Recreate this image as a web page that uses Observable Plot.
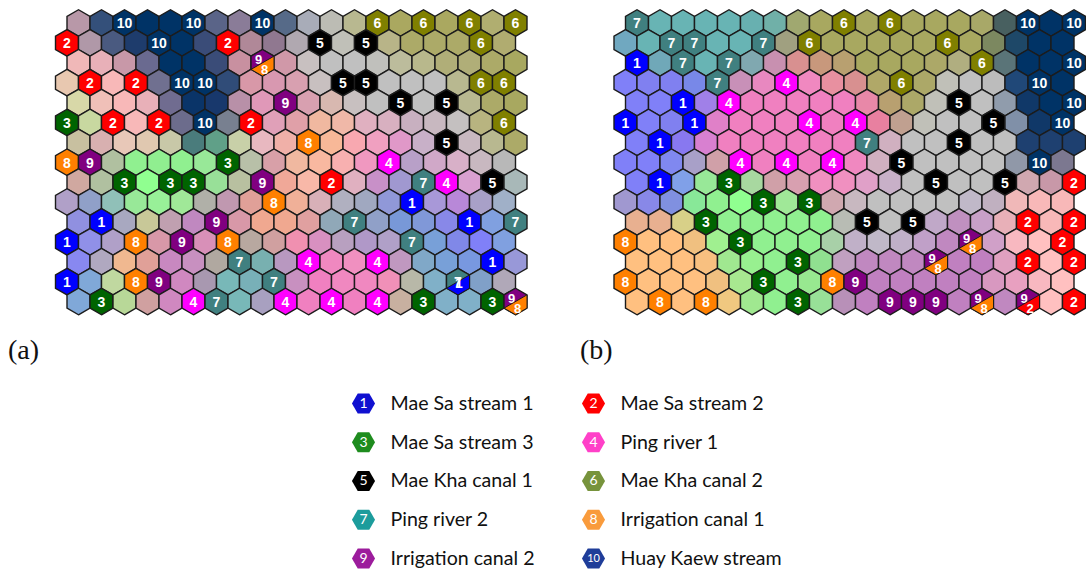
<!DOCTYPE html>
<html><head><meta charset="utf-8">
<script src="https://cdn.jsdelivr.net/npm/d3@7"></script>
<script src="https://cdn.jsdelivr.net/npm/@observablehq/plot@0.6"></script>
<style>
html,body{margin:0;padding:0;background:#fff}
body{width:1086px;height:571px;position:relative;overflow:hidden}
#mapA{position:absolute;left:0;top:0}
#mapB{position:absolute;left:543px;top:0}
#legend{position:absolute;left:330px;top:380px}
.tag{position:absolute;font-family:"Liberation Serif","Times New Roman",serif;font-size:28px;line-height:1;color:#111}
</style></head>
<body>
<div id="mapA"></div><div id="mapB"></div>
<div class="tag" style="left:8px;top:336px">(a)</div>
<div class="tag" style="left:580px;top:336px">(b)</div>
<div id="legend"></div>
<script>
// ---- class colours and names ----
const classIds = ["1","2","3","4","5","6","7","8","9","10"];
const classNames = ["Mae Sa stream 1","Mae Sa stream 2","Mae Sa stream 3","Ping river 1","Mae Kha canal 1","Mae Kha canal 2","Ping river 2","Irrigation canal 1","Irrigation canal 2","Huay Kaew stream"];
const mapClassColors = ["#0000ff","#ff0000","#006400","#ff00ff","#000000","#808000","#408080","#ff8000","#800080","#003366"];
const legendColors = ["#1010d0","#ff0000","#1e8c1e","#ff40c8","#000000","#77933c","#1c9c9c","#f99b3c","#9c1c9c","#1f3d99"];

// ---- map (a): 15 rows x 20 cells; number = labelled class cell, "a/b" = split cell ----
const mapA = [
["#b898a8","#34507a","10","#003366","#003366","10","#5a6488","#8a7c98","10","#566a88","#a8acb8","#bcbcb4","#b8b890","6","#aaa860","6","#aaa860","6","#b0ae70","6"],
["2","#b098a8","#4a5a80","#1e3c6c","10","#003366","#3a4c78","2","#b08898","#907890","#b0a8b0","5","#c0c0b8","5","#b8b488","#acaa68","#acaa68","#acaa68","6","#b0ac70"],
["#f0b8b8","#e8b0b8","#c898a8","#6a6a90","#003366","#003366","#3a4c78","#c890a0","9/8","#d098a8","#c8c0c0","#c0c0c0","#c0c0c0","#c0c0bc","#bcbc9c","#b8b88c","#b0ae78","#b0ae78","#acaa68","#a8a860"],
["#e8c8b0","2","#f8b8b8","2","#707090","10","10","#304c78","#d898a8","#d898b0","#d8a0b0","#c8c0c0","5","5","#c0c0c0","#c0c0c0","#c0c0c0","#b8b890","6","6"],
["#d8d8a8","#f0c0b8","#f8b8b8","#e8b0b8","#706c90","#0a3468","#18386c","#b890a8","#e098b8","9","#d8a0b0","#d8b8b0","#c8c0c0","#c0c0c0","5","#c0c0c0","5","#b8b890","#acaa68","#a8a860"],
["3","#c8d8a0","2","#f8b8b8","2","#6c6c8c","10","#788090","2","#e0a0b8","#e0a0a8","#f0b8a0","#f0b8a8","#e0b0c0","#d8b0c0","#c8b0c0","#c8b8c0","#c4c0c0","#b8b480","6"],
["#c8c0a0","#d8b0b0","#e8c8b8","#e0c8b0","#c8c8a8","#4a7c7c","#60a088","#c8d0a8","#e8b8c0","#f0b0a8","8","#f8b898","#f8a8b0","#f0a0c0","#e098c8","#c8b0c8","5","#c8b8c0","#b8b890","#acaa68"],
["8","9","#b0c0a0","#90f090","#90ee90","#90f090","#98e898","3","#b8c0a8","#d8a0a8","#f0b8a0","#f8b8a0","#f8b0b0","#f098c0","4","#b8a0c8","#d0a8c8","#d8b0c8","#c8b8c0","#b8b8b8"],
["#d0a8a0","#b0c0a0","3","#90ff90","3","3","#98e098","#b8c0a0","9","#f0a898","#f8b8a8","2","#e0b0c0","#c890c8","#a098d0","7","4","#d8a0d0","5","#a8b8b8"],
["#b0a0c8","#90a0c8","#90c0b8","#98e898","#98f098","#a0e898","#b0b0a8","#c098b0","#e0a098","8","#f0b098","#d8b0b8","#b0b0c0","#a0a8c0","#9098d8","1","#a898d8","#b888d8","#a8a0c8","#a0b0c8"],
["#9090e0","1","#a8a8c0","#c8c898","#c0a0b0","#c088c0","9","#d898a8","#f0a890","#f0a890","#e0a0a0","#90a8b8","7","#90a0c8","#7898d8","#8098d8","#8888e8","1","#80a0e0","7"],
["1","#9090e8","#b0a0c8","8","#d898a8","9","#d890b8","8","#b8a8a0","#d0a0a0","#f090b0","#d890c0","#b8a0c0","#b098c8","#b0a0c8","7","#78a0d8","#8088e8","#8080f8","#80a0e0"],
["#8888f0","#b0a8c0","#f0b890","#e0a098","#c888c0","#c890c0","#b0a8a0","7","#78b0b0","#b898c0","4","#f088c0","#f090c0","4","#c098c0","#80a8c8","#78a0d8","#7898e0","1","#9898d8"],
["1","#80a8d8","#c0d8a0","8","9","#d088c0","#a898b0","#78b8b8","#78b0b8","7","#c890c0","#f080c0","#f088c0","#f088c0","#f090b8","#b8b8a8","#80b0c8","7/1","#80a0c8","#b0a8b8"],
["#80a8d8","3","#b8d898","#d0a0a0","#d088c0","4","7","#78b8b8","#a8a0c0","4","#f080c0","4","#f080c0","4","#c8b0a0","3","#80b0c8","#80b0c8","3","9/8"]
];

// ---- map (b) ----
const mapB = [
["7","#68b4b4","#68b4b4","#68b4b4","#68b4b4","#68b0b0","#70b0a8","#a0a870","#a8a860","6","#a8a860","6","#a8a860","#a8a860","#a8a860","#a8a868","#486060","10","#003366","10"],
["#70a8c0","#68b4b4","7","7","#68b4b4","#68b4b4","7","#a0a080","6","#a8a860","#a8a860","#a8a860","#a8a860","#a8a860","6","#a8a860","#7c8860","#1e4868","#003366","#003366"],
["1","#70a8b8","7","#68b4b4","7","#80a8b0","#c890b0","#d89090","#c8987c","#b8a070","#a8a860","#a8a860","#a8a860","#aca868","#b0ae80","6","#5a7478","#003366","#003366","10"],
["#8080f8","#8080f0","#8080f0","#7888e8","7","#c890b8","#e888c0","4","#f088c0","#e890a0","#d89090","#b0a868","6","#aca868","#c0c0b8","#c0c0c0","#bcbcbc","#204878","10","#003366"],
["#8080f8","#8080f8","1","#a080e8","4","#f080c0","#f080c0","#f080c0","#f080c0","#f080c0","#e888a8","#b8a070","#aca868","#c0c0b8","5","#c0c0c0","#909cac","#103868","#003366","10"],
["1","#8080f8","#8080f0","1","#e080c8","#f080c0","#f080c0","#f080c0","4","#f080c0","4","#e880a0","#c0a090","#c0c0b8","#c0c0c0","#c0c0c0","5","#8090a8","#103868","10"],
["#8080f8","1","#8878f0","#d880d0","#f080c0","#f080c0","#f080c0","#f080c0","#f080c0","#f080c0","7","#d0b0c0","#c0c0c0","#c0c0c0","5","#c0c0c0","#c0c0c0","#1e4070","#1e4070","#1e4070"],
["#8080f8","#8080f8","#8088f0","#a8a0c8","#d0a0a8","4","#f080c0","4","#f080c0","4","#f088c0","#d0b0c0","5","#c0c0c0","#c0c0c0","#c0c0c0","#c0c0c0","#9098a8","10","#7c7890"],
["#8080f8","1","#80a0e8","#98e898","3","#a8d8a0","#d0a0a8","#d8a0b0","#f090c0","#f090c0","#e0a0c8","#c8b0c8","#c0c0c0","5","#c0c0c0","#c0c0c0","5","#d0a8b0","#c898a8","2"],
["#a098d0","#8888e8","#8090e0","#88e898","#90f090","#90ff90","3","#a0e898","3","#d0a8b0","#c8b8c0","#c0c0c0","#c0c0c0","#c0c0c0","#c0c0c0","#c0b8c8","#c0b0c0","#f0b8b8","#f8b8b8","#f8b8b8"],
["#e8b090","#e8b090","#d8d088","3","#90f090","#90f090","#90f090","#90f090","#90f090","#b8bcb4","5","#c0c0c0","5","#c0a8c8","#c090c0","#c8a0c8","#e8b0b8","2","#f8b8b8","2"],
["8","#ffc080","#ffc080","#f0c080","#a0f090","3","#90f090","#90f090","#90f090","#a8d0a8","#c0b0c8","#c0b8c8","#c0b0c8","#c0a0c8","#c088c0","9/8","#d0a0c8","#f8b8c0","#ffc0c0","2"],
["#ffc080","#ffc080","#ffc080","#f8c080","#a0e890","#98f090","#90f090","3","#90e090","#c0a0c0","#c088c0","#c088c0","#c088c0","9/8","#c080c0","#c080c0","#e0a0c0","2","#ffc0c0","2"],
["8","#ffc080","#ffc080","#ffc080","#f0c080","#a8e890","3","#90f090","#98e890","8","9","#c080c0","#c080c0","#c080c0","#c080c0","#c080c0","#d898c0","#e8a0c0","#f8b8c0","#ffc0c0"],
["#ffc080","8","#ffc080","8","#f0c880","#a0e890","#90f090","3","#98e098","#b890b8","#c080c0","9","9","9","#c080c0","9/8","#c088c0","9/2","#ffc0c0","2"]
];

const classColor = id => mapClassColors[classIds.indexOf(id)];

// lower-right half of a pointy-top hexagon (cut from lower-left to upper-right vertex)
const halfHex = {
  draw(ctx, size) {
    const rx = Math.sqrt(size / Math.PI), ry = rx * 2 / Math.sqrt(3), hy = ry / 2;
    ctx.moveTo(rx, -hy); ctx.lineTo(rx, hy); ctx.lineTo(0, ry); ctx.lineTo(-rx, hy); ctx.closePath();
  }
};

function cellsOf(rows) {
  const cells = [], splits = [], labels = [], labA = [], labB = [];
  rows.forEach((row, r) => row.forEach((tok, c) => {
    const u = c + (r % 2 === 0 ? 0.5 : 0);
    if (tok.includes("/")) {
      const [a, b] = tok.split("/");
      cells.push({u, r, fill: classColor(a)});
      splits.push({u, r, fill: classColor(b)});
      labA.push({u, r, t: a, k: tok});
      labB.push({u, r, t: b, k: tok});
    } else if (classIds.includes(tok)) {
      cells.push({u, r, fill: classColor(tok)});
      labels.push({u, r, t: tok});
    } else {
      cells.push({u, r, fill: tok});
    }
  }));
  return {cells, splits, labels, labA, labB};
}

function drawMap(rows, x0) {
  const d = cellsOf(rows);
  const font = {fill: "white", fontWeight: "bold", fontSize: 14, fontFamily: "Liberation Sans, Arial, sans-serif"};
  return Plot.plot({
    width: 543, height: 320, margin: 0,
    x: {type: "linear", domain: [0, 19.5], range: [x0, x0 + 19.5 * 23], axis: null},
    y: {type: "linear", domain: [0, 14], range: [22.5, 301], axis: null},
    color: {type: "identity"},
    marks: [
      Plot.dot(d.cells, {x: "u", y: "r", r: 11.5, symbol: "hexagon", fill: "fill", stroke: "#1c1c1c", strokeWidth: 1.4}),
      Plot.dot(d.splits, {x: "u", y: "r", r: 11.5, symbol: halfHex, fill: "fill", stroke: "#1c1c1c", strokeWidth: 1}),
      Plot.text(d.labels, {x: "u", y: "r", text: "t", dy: 1, ...font}),
      Plot.text(d.labA.filter(e => e.k !== "7/1"), {x: "u", y: "r", text: "t", dx: -4, dy: -3, ...font, fontSize: 13}),
      Plot.text(d.labB.filter(e => e.k !== "7/1"), {x: "u", y: "r", text: "t", dx: 2, dy: 7, ...font, fontSize: 13}),
      Plot.text(d.labA.filter(e => e.k === "7/1"), {x: "u", y: "r", text: "t", dy: 1, ...font}),
      Plot.text(d.labB.filter(e => e.k === "7/1"), {x: "u", y: "r", text: "t", dx: 1, dy: 2, ...font})
    ]
  });
}

document.getElementById("mapA").append(drawMap(mapA, 66.5));
document.getElementById("mapB").append(drawMap(mapB, 82));

// ---- legend ----
const legendItems = classIds.map((id, i) => ({id, name: classNames[i], col: i % 2, row: Math.floor(i / 2), color: legendColors[i]}));
const legend = Plot.plot({
  width: 480, height: 190, margin: 0,
  x: {type: "linear", domain: [0, 1], range: [33, 263], axis: null},
  y: {type: "linear", domain: [0, 4], range: [23, 178], axis: null},
  color: {type: "identity"},
  marks: [
    Plot.dot(legendItems, {x: "col", y: "row", r: 10, symbol: "hexagon", rotate: 90, fill: "color"}),
    Plot.text(legendItems.filter(d => d.id !== "10"), {x: "col", y: "row", text: "id", fill: "white", fontSize: 14, fontFamily: "Lato, sans-serif"}),
    Plot.text(legendItems.filter(d => d.id === "10"), {x: "col", y: "row", text: "id", fill: "white", fontSize: 11, fontFamily: "Lato, sans-serif"}),
    Plot.text(legendItems, {x: "col", y: "row", text: "name", dx: 27, textAnchor: "start", fill: "#111", fontSize: 19.6, fontFamily: "Lato, sans-serif"})
  ]
});
document.getElementById("legend").append(legend);
</script>
</body></html>
